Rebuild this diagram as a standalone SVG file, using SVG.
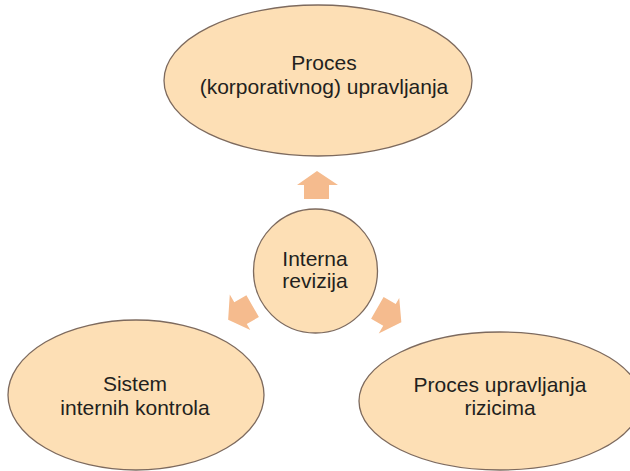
<svg xmlns="http://www.w3.org/2000/svg" width="630" height="471" viewBox="0 0 630 471">
<style>
.node{fill:#fddfb5;stroke:#7d6a5e;stroke-width:1.3}
.lbl{font-family:"Liberation Sans",Arial,sans-serif;font-size:21px;fill:#231f20;text-anchor:middle}
.b{font-weight:bold}
.arr{fill:#f5bb8e}
</style>
<defs>
<polygon id="arrowUp" points="317,171 338,185 329,185 329,199 304,199 304,185 297,185"/>
</defs>
<rect width="630" height="471" fill="#ffffff"/>
<g id="connectors" class="arr">
<use href="#arrowUp"/>
<use href="#arrowUp" transform="rotate(120 315.5 271)"/>
<use href="#arrowUp" transform="rotate(-120 315.5 271)"/>
</g>
<g id="node-governance">
<ellipse class="node" cx="318" cy="80.5" rx="154" ry="75.5"/>
<text class="lbl" x="324" y="70">Proces</text>
<text class="lbl" x="324" y="94">(korporativnog) upravljanja</text>
</g>
<g id="node-audit">
<circle class="node" cx="315.5" cy="271" r="62"/>
<text class="lbl" x="315" y="266">Interna</text>
<text class="lbl" x="315" y="288">revizija</text>
</g>
<g id="node-controls">
<ellipse class="node" cx="136" cy="395" rx="128" ry="75"/>
<text class="lbl" x="135" y="391">Sistem</text>
<text class="lbl" x="135" y="415">internih kontrola</text>
</g>
<g id="node-risk">
<ellipse class="node" cx="500" cy="401" rx="141" ry="69"/>
<text class="lbl" x="500" y="392">Proces upravljanja</text>
<text class="lbl" x="500" y="415">rizicima</text>
</g>
</svg>
